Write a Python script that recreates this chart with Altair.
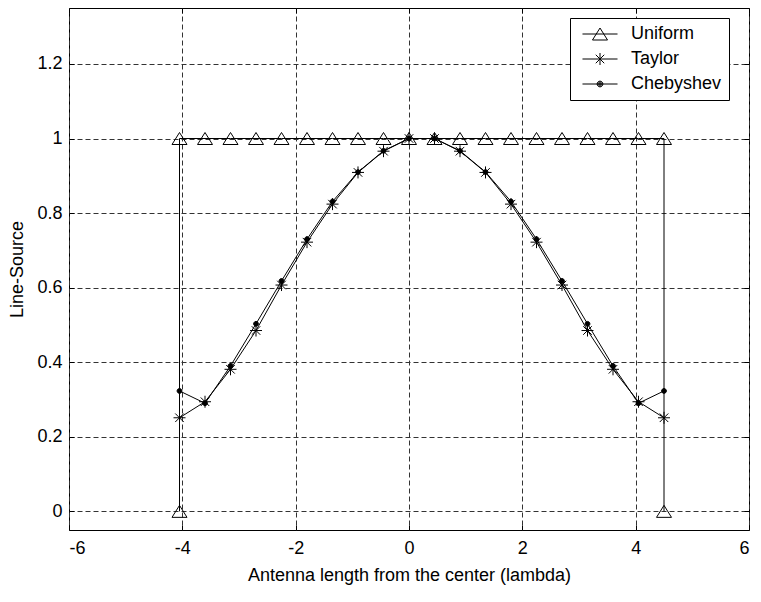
import altair as alt
import pandas as pd

# ---- data ----
series_names = ["Uniform", "Taylor", "Chebyshev"]

x_pos = [-4.05, -3.6, -3.15, -2.7, -2.25, -1.8, -1.35, -0.9, -0.45, 0.0,
         0.45, 0.9, 1.35, 1.8, 2.25, 2.7, 3.15, 3.6, 4.05, 4.5]

taylor = [0.251, 0.294, 0.381, 0.485, 0.607, 0.722, 0.824, 0.909, 0.966, 1.0,
          1.0, 0.966, 0.909, 0.824, 0.722, 0.607, 0.485, 0.381, 0.294, 0.251]

chebyshev = [0.323, 0.290, 0.390, 0.503, 0.618, 0.730, 0.831, 0.910, 0.967, 1.0,
             1.0, 0.967, 0.910, 0.831, 0.730, 0.618, 0.503, 0.390, 0.290, 0.323]

uniform_x = [-4.05, -4.05, -3.6, -3.15, -2.7, -2.25, -1.8, -1.35, -0.9, -0.45, 0.0,
             0.45, 0.9, 1.35, 1.8, 2.25, 2.7, 3.15, 3.6, 4.05, 4.5, 4.5]
uniform_y = [0.0, 1.0, 1.0, 1.0, 1.0, 1.0, 1.0, 1.0, 1.0, 1.0, 1.0,
             1.0, 1.0, 1.0, 1.0, 1.0, 1.0, 1.0, 1.0, 1.0, 1.0, 0.0]

x_ticks = [-6, -4, -2, 0, 2, 4, 6]
y_ticks = [0, 0.2, 0.4, 0.6, 0.8, 1, 1.2]

# ---- table ----
rows = []
for i, (xv, yv) in enumerate(zip(uniform_x, uniform_y)):
    rows.append({"series": "Uniform", "idx": i, "x": xv, "y": yv})
for i, (xv, yv) in enumerate(zip(x_pos, taylor)):
    rows.append({"series": "Taylor", "idx": i, "x": xv, "y": yv})
for i, (xv, yv) in enumerate(zip(x_pos, chebyshev)):
    rows.append({"series": "Chebyshev", "idx": i, "x": xv, "y": yv})
df = pd.DataFrame(rows)

FONT = "Liberation Sans"

# marker shapes (unit box, size 225 -> 15 px)
marker_paths = [
    "M0,-0.8L1,0.8L-1,0.8Z",
    "M-0.8,0L0.8,0M0,-0.8L0,0.8M-0.57,-0.57L0.57,0.57M-0.57,0.57L0.57,-0.57",
    "M-0.32,0A0.32,0.32 0 1,0 0.32,0A0.32,0.32 0 1,0 -0.32,0Z",
]
marker_fill = ["transparent", "transparent", "black"]

# legend symbols: line + marker (size 256 -> unit 8 px)
legend_paths = [
    "M-2.19,0H2.19M0,-0.75L0.94,0.75L-0.94,0.75Z",
    "M-2.19,0H2.19M0,-0.75V0.75M-0.53,-0.53L0.53,0.53M-0.53,0.53L0.53,-0.53",
    "M-2.19,0H2.19M-0.36,0A0.36,0.36 0 1,0 0.36,0A0.36,0.36 0 1,0 -0.36,0Z"
    "M-0.24,0A0.24,0.24 0 1,0 0.24,0A0.24,0.24 0 1,0 -0.24,0Z"
    "M-0.12,0A0.12,0.12 0 1,0 0.12,0A0.12,0.12 0 1,0 -0.12,0Z",
]

x_scale = alt.Scale(domain=[-6, 6], nice=False, zero=False)
y_scale = alt.Scale(domain=[-0.05, 1.35], nice=False, zero=False)

# main axes (labels, grid, inward ticks via negative offset)
x_main = alt.X(
    "x:Q",
    scale=x_scale,
    axis=alt.Axis(
        orient="bottom",
        values=x_ticks,
        labelExpr="'' + datum.value",
        title="Antenna length from the center (lambda)",
        titlePadding=9,
        labelPadding=9,
        offset=-5,
        ticks=True,
        tickSize=5,
        grid=True,
    ),
)
y_main = alt.Y(
    "y:Q",
    scale=y_scale,
    axis=alt.Axis(
        orient="left",
        values=y_ticks,
        format="~g",
        title="Line-Source",
        titlePadding=10,
        labelPadding=7,
        offset=-5,
        ticks=True,
        tickSize=5,
        grid=True,
    ),
)

# opposite-side inward ticks only
x_top = alt.X(
    "x:Q",
    scale=x_scale,
    axis=alt.Axis(orient="top", values=x_ticks, labels=False, title=None,
                  offset=-5, ticks=True, tickSize=5, grid=False),
)
y_right = alt.Y(
    "y:Q",
    scale=y_scale,
    axis=alt.Axis(orient="right", values=y_ticks, labels=False, title=None,
                  offset=-5, ticks=True, tickSize=5, grid=False),
)

x_none = alt.X("x:Q", scale=x_scale, axis=None)
y_none = alt.Y("y:Q", scale=y_scale, axis=None)

base = alt.Chart(df)

lines = base.mark_line(color="black", strokeWidth=1).encode(
    x=x_main, y=y_main, detail="series:N", order="idx:Q"
)

points = base.mark_point(color="black", strokeWidth=1, opacity=1, size=225).encode(
    x=x_top,
    y=y_right,
    shape=alt.Shape("series:N", scale=alt.Scale(domain=series_names, range=marker_paths), legend=None),
    fill=alt.Fill("series:N", scale=alt.Scale(domain=series_names, range=marker_fill), legend=None),
)

legend_layer = base.mark_point(color="black", strokeWidth=1, opacity=0, size=256).encode(
    x=x_none,
    y=y_none,
    shape=alt.Shape(
        "series:N",
        scale=alt.Scale(domain=series_names, range=legend_paths),
        legend=alt.Legend(
            title=None,
            orient="none",
            legendX=501,
            legendY=10,
            fillColor="white",
            strokeColor="black",
            padding=7,
            symbolSize=256,
            symbolOffset=14,
            symbolOpacity=1,
            symbolStrokeWidth=1,
            symbolStrokeColor="black",
            symbolFillColor="transparent",
            labelOffset=22,
            rowPadding=7,
            labelFont=FONT,
            labelFontSize=18,
            labelColor="black",
        ),
    ),
)

chart = (
    alt.layer(lines, points, legend_layer)
    .resolve_scale(shape="independent", fill="independent")
    .resolve_axis(x="independent", y="independent")
    .properties(
        width=680,
        height=522,
        autosize=alt.AutoSizeParams(type="none"),
        padding={"left": 61, "top": 0, "right": 4, "bottom": 64},
    )
    .configure_view(stroke="black", strokeWidth=1)
    .configure_axis(
        labelFont=FONT,
        titleFont=FONT,
        labelFontSize=18,
        titleFontSize=18,
        titleFontWeight="normal",
        labelColor="black",
        titleColor="black",
        tickColor="black",
        tickWidth=1,
        domain=False,
        gridColor="#333333",
        gridDash=[5, 3],
        gridWidth=1,
    )
)

chart.save("out.html", embed_options={"renderer": "svg", "actions": False})
